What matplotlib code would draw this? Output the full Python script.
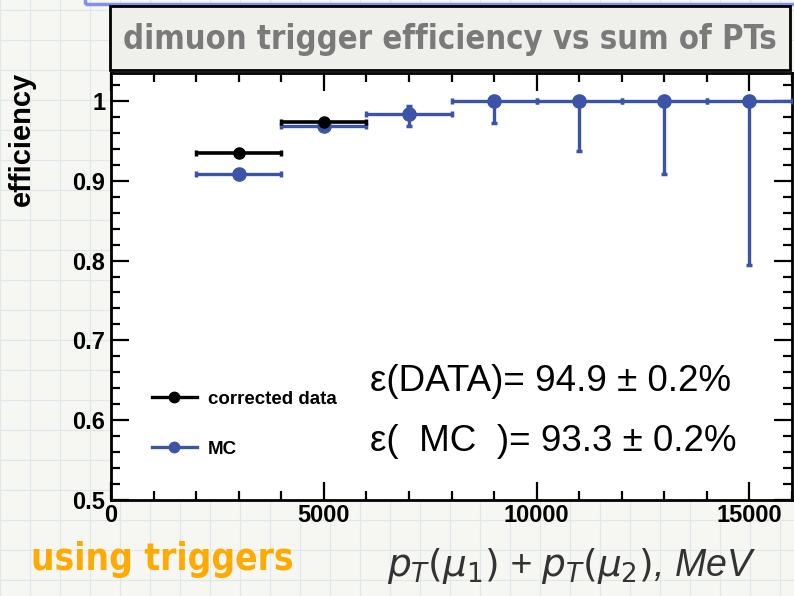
import matplotlib
matplotlib.use("Agg")
import matplotlib.pyplot as plt
import numpy as np
from matplotlib.patches import Rectangle
from matplotlib.lines import Line2D
from matplotlib.ticker import MultipleLocator, FuncFormatter

# bins of pT(mu1)+pT(mu2), MeV
data_x = [3000, 5000]
data_y = [0.935, 0.973]
data_xerr = [1000, 1000]

mc_x = [3000, 5000, 7000, 9000, 11000, 13000, 15000]
mc_y = [0.908, 0.968, 0.984, 1.0, 1.0, 1.0, 1.0]
mc_xerr = [1000, 1000, 1000, 1000, 1000, 1000, 1000]
mc_err_lo = [0.0, 0.0, 0.015, 0.028, 0.0625, 0.092, 0.206]
mc_err_hi = [0.0, 0.0, 0.010, 0.0, 0.0, 0.0, 0.0]

W, H = 794, 596


def px(x, y):
    # pixel coords -> figure fraction
    return x / W, 1 - y / H


fig = plt.figure(figsize=(W / 100, H / 100), dpi=100)
fig.patch.set_facecolor("#f6f6f2")

# graph paper background
for gx in np.arange(0, W, 30):
    fig.add_artist(Line2D([gx / W, gx / W], [0, 1], color="#dde8ee", lw=0.8, zorder=0))
for gy in np.arange(10, H, 30):
    fig.add_artist(Line2D([0, 1], [1 - gy / H, 1 - gy / H], color="#dde8ee", lw=0.8, zorder=0))

# slide frame at top
x0, y0 = px(85, 4)
fig.add_artist(Rectangle((x0, y0), 1.0, 0.1, facecolor="none", edgecolor="#8090ee", lw=2.5, zorder=1))

# title box
bx0, by0 = px(110, 70)
bx1, by1 = px(790, 6)
fig.add_artist(Rectangle((bx0, by0), bx1 - bx0, by1 - by0, facecolor="#efefeb",
                         edgecolor="black", lw=2, zorder=2))
tx, ty = px(450, 40)
fig.text(tx, ty, "dimuon trigger efficiency vs sum of PTs", ha="center", va="center",
         fontsize=23.5, color="#7a7a7a", fontweight="bold", fontstretch="condensed",
         family="DejaVu Sans", zorder=3)

# main axes
l, b = px(111, 500)
r, t = px(792, 73)
ax = fig.add_axes([l, b, r - l, t - b])
ax.set_facecolor("white")

ax.errorbar(mc_x, mc_y, xerr=mc_xerr, yerr=[mc_err_lo, mc_err_hi], fmt="o",
            color="#3b54a8", ms=9.5, elinewidth=2.4, capsize=2, capthick=2.5, zorder=3)
ax.errorbar(data_x, data_y, xerr=data_xerr, fmt="o", color="black", ms=8,
            elinewidth=2.6, capsize=2, capthick=2.5, zorder=4)

ax.set_xlim(0, 16000)
ax.set_ylim(0.5, 1.035)
ax.xaxis.set_major_locator(MultipleLocator(5000))
ax.xaxis.set_minor_locator(MultipleLocator(1000))
ax.yaxis.set_major_locator(MultipleLocator(0.1))
ax.yaxis.set_minor_locator(MultipleLocator(0.02))
ax.yaxis.set_major_formatter(FuncFormatter(lambda v, p: "%g" % round(v, 2)))
ax.tick_params(which="both", direction="in", top=True, right=True, width=1.6,
               labelsize=17)
ax.tick_params(axis="x", pad=3)
ax.tick_params(axis="y", pad=4)
ax.tick_params(which="major", length=13)
ax.tick_params(which="minor", length=6.5)
for lab in ax.get_xticklabels() + ax.get_yticklabels():
    lab.set_fontweight("bold")
    lab.set_family("Liberation Sans")
for s in ax.spines.values():
    s.set_linewidth(2)

# legend
handles = [Line2D([], [], color="black", marker="o", ms=7.5, lw=2.4),
           Line2D([], [], color="#3b54a8", marker="o", ms=7.5, lw=2.4)]
ax.legend(handles, ["corrected data", "MC"], loc="upper left",
          bbox_to_anchor=(0.035, 0.295), frameon=False, handlelength=2.4,
          handletextpad=0.6, labelspacing=1.75,
          prop={"family": "Liberation Sans", "weight": "bold", "size": 13.5})

# efficiency numbers
ax.text(0.38, 0.278, "ε(DATA)= 94.9 ± 0.2%", transform=ax.transAxes, fontsize=26.5,
        family="Liberation Sans", va="center")
ax.text(0.38, 0.138, "ε(  MC  )= 93.3 ± 0.2%", transform=ax.transAxes, fontsize=26.5,
        family="Liberation Sans", va="center")

# axis labels
yx, yy = px(22, 139)
fig.text(yx, yy, "efficiency", rotation=90, ha="center", va="center", fontsize=21,
         fontweight="bold", family="Liberation Sans")
xx, xy = px(572, 566)
fig.text(xx, xy, r"$p_T(\mu_1)$ + $p_T(\mu_2)$, MeV", ha="center", va="center",
         fontsize=27, style="italic", color="#333333", family="Liberation Sans")

# slide note
ox, oy = px(162, 560)
fig.text(ox, oy, "using triggers", ha="center", va="center", fontsize=26.5,
         fontweight="bold", fontstretch="condensed", color="#ffaa00", family="DejaVu Sans")

fig.savefig("out.png", dpi=100, facecolor=fig.get_facecolor())
